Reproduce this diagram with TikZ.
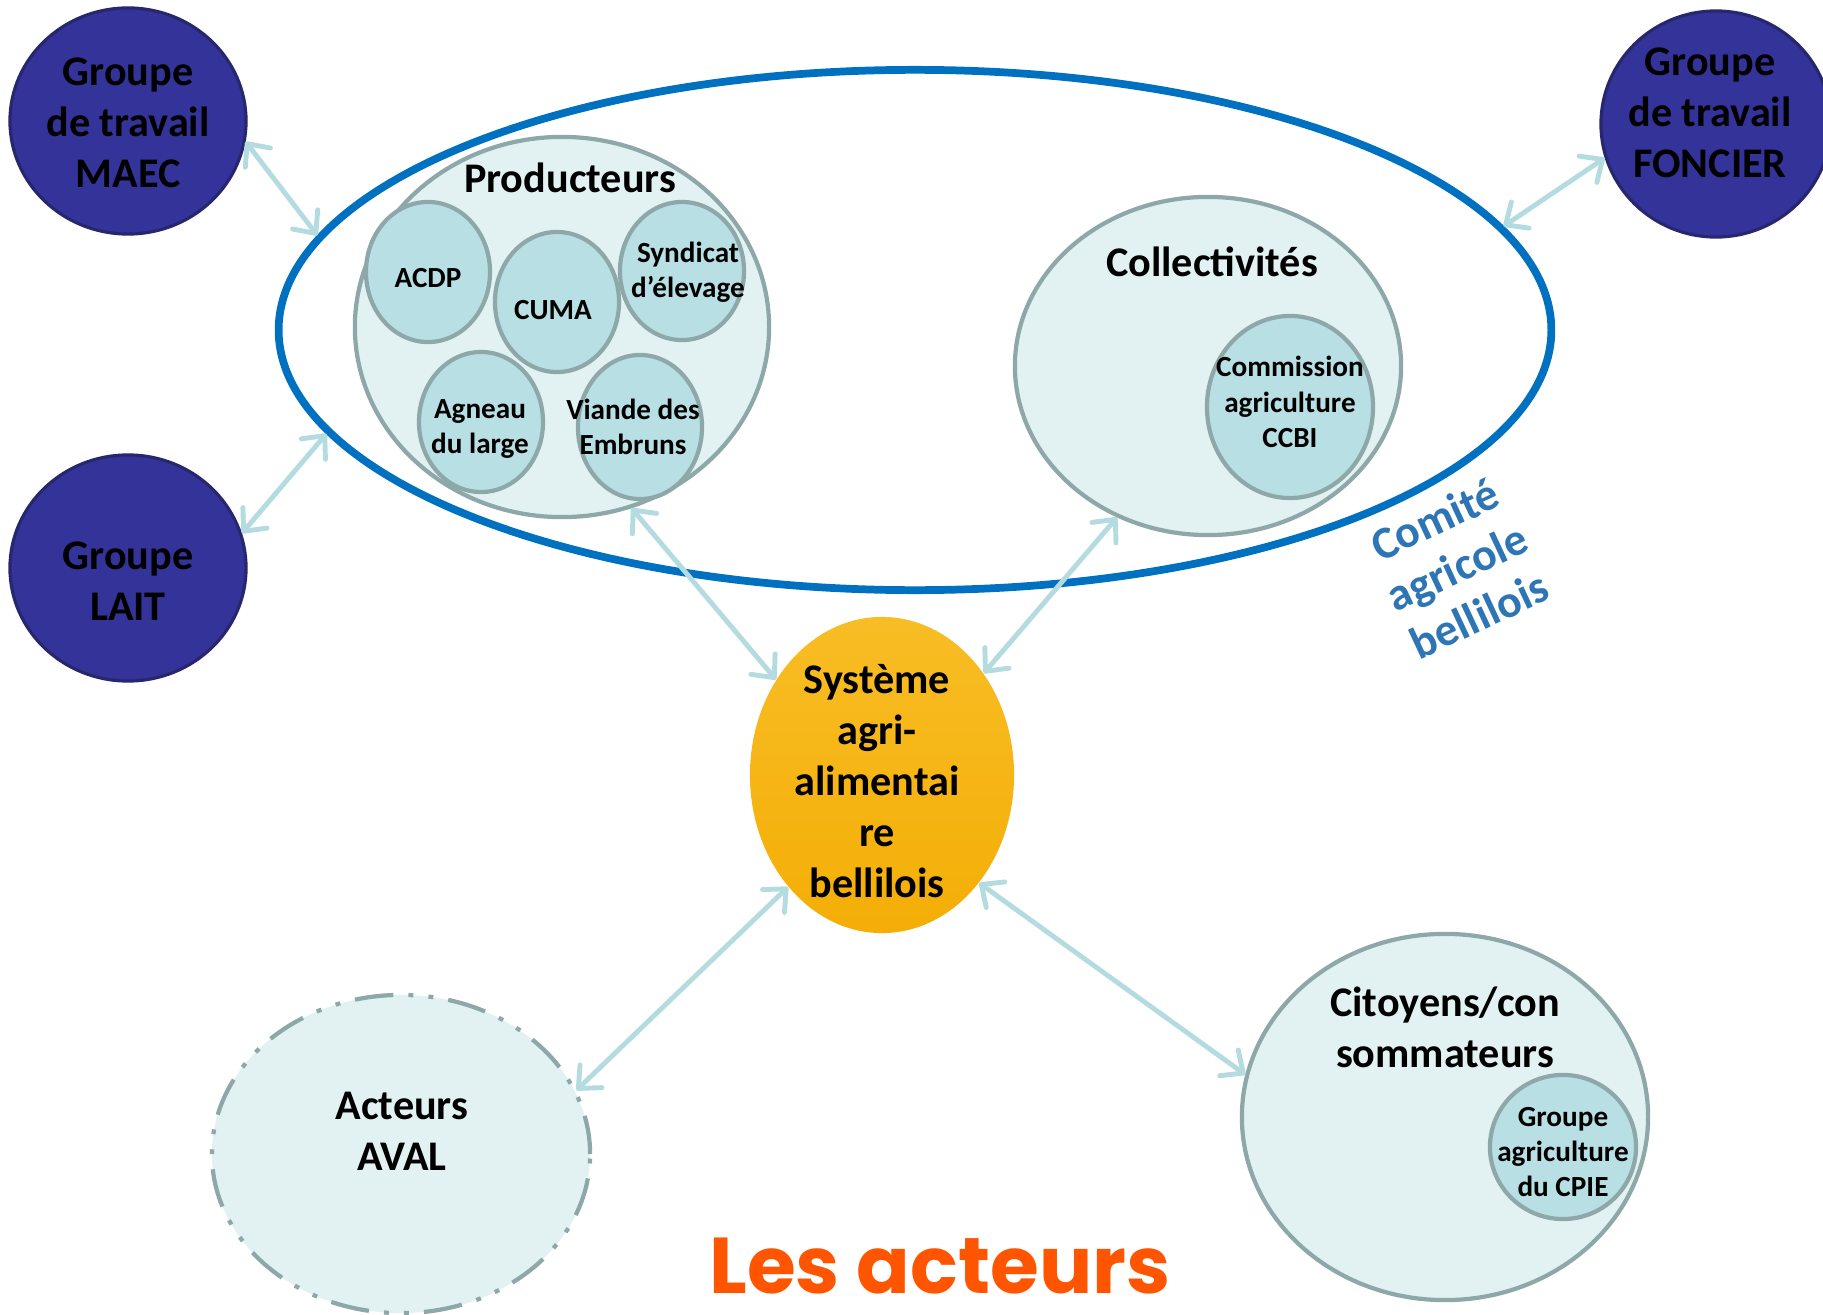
\documentclass[tikz,border=0pt]{standalone}
\usepackage{fontspec}
\setmainfont{Carlito}
\newfontfamily\titlefont{Poppins}
\usepackage{tikz}
\usetikzlibrary{positioning,shapes.geometric,arrows.meta}
\definecolor{GroupNavy}{HTML}{333399}
\definecolor{GroupEdge}{HTML}{27276F}
\definecolor{ComiteBlue}{HTML}{0070C0}
\definecolor{ComiteText}{HTML}{2E75B6}
\definecolor{PaleCyan}{HTML}{E2F2F3}
\definecolor{MidCyan}{HTML}{B8DFE3}
\definecolor{EdgeGrey}{HTML}{8EA8AA}
\definecolor{LinkCyan}{HTML}{B4DCE0}
\definecolor{SysTop}{HTML}{F8BD25}
\definecolor{SysBottom}{HTML}{F4AE06}
\definecolor{TitleOrange}{HTML}{FF5500}

\begin{document}
\begin{tikzpicture}[
      x=0.01cm, y=-0.01cm,
      every node/.style={align=center},
      groupe/.style={ellipse, draw=GroupEdge, line width=0.9pt, fill=GroupNavy, inner sep=0pt},
      actor/.style={ellipse, draw=EdgeGrey, line width=1.2pt, fill=PaleCyan, inner sep=0pt},
      member/.style={ellipse, draw=EdgeGrey, line width=1.2pt, fill=MidCyan, inner sep=0pt},
      biglbl/.style={font=\bfseries\fontsize{12}{14.5}\selectfont},
      smalllbl/.style={font=\bfseries\fontsize{8.3}{10}\selectfont},
      link/.style={LinkCyan, line width=1.4pt, line cap=round,
        {Straight Barb[round,length=5pt,width=9pt]}-{Straight Barb[round,length=5pt,width=9pt]}}
    ]
      \useasboundingbox (0,0) rectangle (1823,1315);

      % Comite agricole
      \node[ellipse, draw=ComiteBlue, line width=2.2pt, inner sep=0pt,
            minimum width=12.72cm, minimum height=5.2cm] (comite) at (915,330) {};
      \node[rotate=25, text=ComiteText, font=\bfseries\fontsize{13}{15}\selectfont]
            (comitetxt) at (1457,567) {Comité\\agricole\\bellilois};

      % Groupes de travail
      \node[groupe, minimum width=2.36cm, minimum height=2.26cm] (maec) at (128,121) {};
      \node[biglbl] (maectxt) at (128,123) {Groupe\\de travail\\MAEC};
      \node[groupe, minimum width=2.30cm, minimum height=2.26cm] (foncier) at (1716,124) {};
      \node[biglbl] (fonciertxt) at (1710,113) {Groupe\\de travail\\FONCIER};
      \node[groupe, minimum width=2.36cm, minimum height=2.26cm] (lait) at (128,568) {};
      \node[biglbl] (laittxt) at (128,581) {Groupe\\LAIT};

      % Producteurs
      \node[actor, minimum width=4.14cm, minimum height=3.80cm] (prod) at (562,327) {};
      \node[biglbl] (prodtxt) at (570,178) {Producteurs};
      \node[member, minimum width=1.24cm, minimum height=1.40cm] (acdp) at (428,272) {};
      \node[member, minimum width=1.24cm, minimum height=1.40cm] (cuma) at (557,302) {};
      \node[member, minimum width=1.24cm, minimum height=1.38cm] (syndicat) at (682,271) {};
      \node[member, minimum width=1.24cm, minimum height=1.40cm] (agneau) at (481,422) {};
      \node[member, minimum width=1.24cm, minimum height=1.44cm] (viande) at (640,427) {};
      \node[smalllbl] (acdptxt) at (428,278) {ACDP};
      \node[smalllbl] (cumatxt) at (553,310) {CUMA};
      \node[smalllbl] (syndicattxt) at (688,272) {Syndicat\\d’élevage};
      \node[smalllbl] (agneautxt) at (480,429) {Agneau\\du large};
      \node[smalllbl] (viandetxt) at (633,427) {Viande des\\Embruns};

      % Collectivites
      \node[actor, minimum width=3.86cm, minimum height=3.38cm] (collect) at (1208,366) {};
      \node[biglbl] (collecttxt) at (1212,262) {Collectivités};
      \node[member, minimum width=1.66cm, minimum height=1.82cm] (ccbi) at (1290,407) {};
      \node[smalllbl] (ccbitxt) at (1290,402) {Commission\\agriculture\\CCBI};

      % Systeme
      \node[ellipse, inner sep=0pt, top color=SysTop, bottom color=SysBottom,
            minimum width=2.64cm, minimum height=3.16cm] (sys) at (882,775) {};
      \node[biglbl] (systxt) at (877,781) {Système\\agri-\\alimentai\\re\\bellilois};

      % Aval et citoyens
      \node[actor, dash pattern=on 11pt off 4.3pt on 1.4pt off 4.3pt on 1.4pt off 4.3pt,
            minimum width=3.78cm, minimum height=3.18cm] (aval) at (401,1154) {};
      \node[biglbl] (avaltxt) at (402,1131) {Acteurs\\AVAL};
      \node[actor, minimum width=4.06cm, minimum height=3.66cm] (citoyens) at (1445,1117) {};
      \node[biglbl] (citoyenstxt) at (1445,1027) {Citoyens/con\\sommateurs};
      \node[member, minimum width=1.46cm, minimum height=1.44cm] (cpie) at (1563,1147) {};
      \node[smalllbl] (cpietxt) at (1563,1152) {Groupe\\agriculture\\du CPIE};

      \draw[link] (maec.-10) -- (comite.171);
      \draw[link] (lait.17) -- (comite.190);
      \draw[link] (foncier.197) -- (comite.10);
      \draw[link] (prod.-69) -- (sys.138);
      \draw[link] (collect.-121) -- (sys.45);
      \draw[link] (sys.230) -- (aval.20);
      \draw[link] (sys.-48) -- (citoyens.168);

      % Titre
      \node[inner sep=0pt, font=\titlefont\bfseries\fontsize{22.5}{27}\selectfont, text=TitleOrange]
            (titre) at (940,1266) {Les acteurs};
    \end{tikzpicture}
\end{document}
